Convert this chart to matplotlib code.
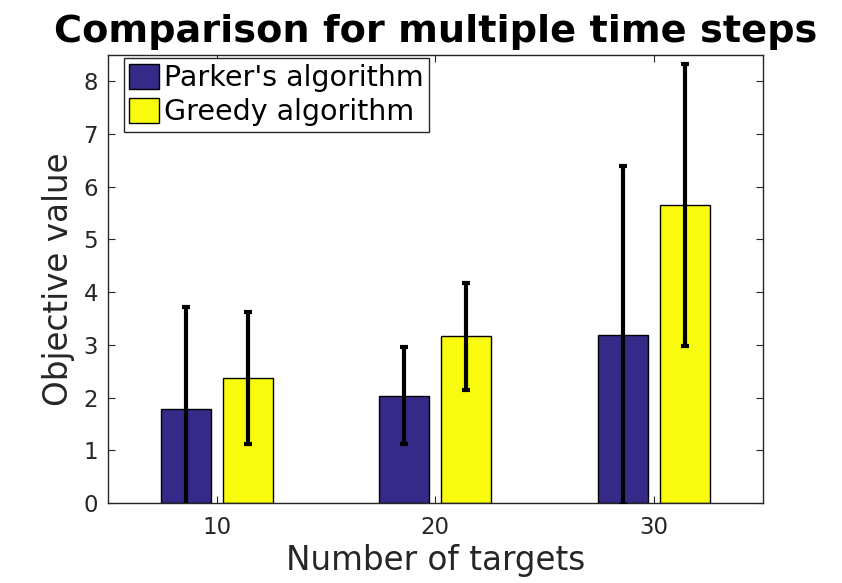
import numpy as np
import matplotlib.pyplot as plt

targets = [10, 20, 30]
parker_mean = [1.78, 2.04, 3.18]
parker_err = [1.93, 0.92, 3.22]
greedy_mean = [2.38, 3.16, 5.65]
greedy_err = [1.25, 1.02, 2.68]

tick_color = '#262626'
plt.rcParams['font.family'] = 'DejaVu Sans'

fig = plt.figure(figsize=(8.42, 5.83), dpi=100)
ax = fig.add_axes([0.128, 0.137, 0.778, 0.769])

x = np.array(targets, dtype=float)
off = 1.42
w = 2.3
ax.bar(x - off, parker_mean, width=w, color='#352a87', edgecolor='black',
       linewidth=1, label="Parker's algorithm", zorder=2)
ax.bar(x + off, greedy_mean, width=w, color='#f9fb0e', edgecolor='black',
       linewidth=1, label='Greedy algorithm', zorder=2)
ax.errorbar(x - off, parker_mean, yerr=parker_err, fmt='none', ecolor='black',
            elinewidth=3, capsize=3, capthick=3, zorder=3)
ax.errorbar(x + off, greedy_mean, yerr=greedy_err, fmt='none', ecolor='black',
            elinewidth=3, capsize=3, capthick=3, zorder=3)

ax.set_xlim(5, 35)
ax.set_ylim(0, 8.5)
ax.set_xticks(targets)
ax.set_yticks(range(0, 9))
ax.tick_params(direction='in', top=True, right=True, length=5, width=0.8,
               labelsize=16.5, colors=tick_color, labelcolor=tick_color)
ax.tick_params(axis='x', pad=9)
ax.tick_params(axis='y', pad=7)
for s in ax.spines.values():
    s.set_color(tick_color)
    s.set_linewidth(1)

ax.set_xlabel('Number of targets', fontsize=23.5, color=tick_color, labelpad=4)
ax.set_ylabel('Objective value', fontsize=23.5, color=tick_color, labelpad=6)
ax.set_title('Comparison for multiple time steps', fontsize=27.5, fontweight='bold',
             color='black', pad=9)

leg = ax.legend(loc='upper left', fontsize=20.5, fancybox=False, framealpha=1,
                edgecolor=tick_color, handlelength=1.05, handleheight=1.0,
                borderaxespad=0, handletextpad=0.15, borderpad=0.2,
                labelspacing=0.2, bbox_to_anchor=(0.0244, 0.993))
leg.get_frame().set_linewidth(1)

fig.savefig('out.png', dpi=100)
